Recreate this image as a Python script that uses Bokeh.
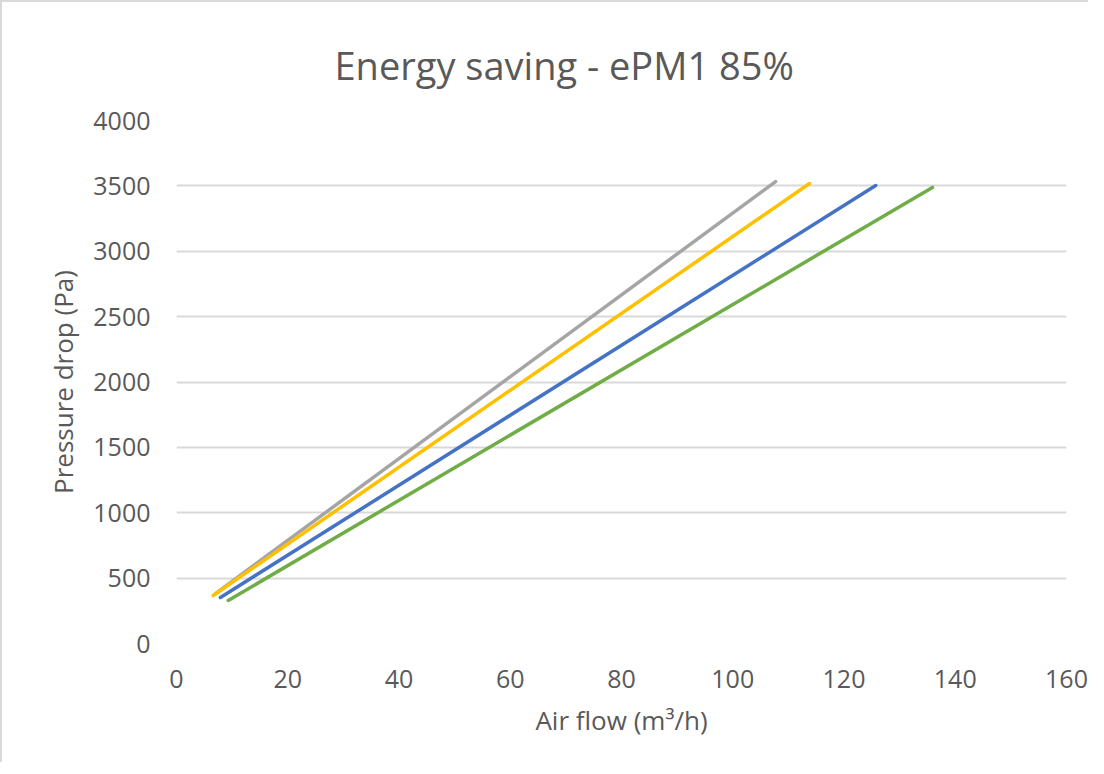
from bokeh.plotting import figure
from bokeh.models import FixedTicker
from bokeh.embed import file_html
from bokeh.resources import INLINE

# Data (start and end point of each straight line)
gray_x = [7.0, 107.7]
gray_y = [382, 3533]
yellow_x = [6.6, 113.8]
yellow_y = [367, 3518]
blue_x = [7.9, 125.7]
blue_y = [352, 3503]
green_x = [9.3, 135.9]
green_y = [329, 3488]

x_ticks = [0, 20, 40, 60, 80, 100, 120, 140, 160]
y_ticks = [0, 500, 1000, 1500, 2000, 2500, 3000, 3500, 4000]

title_text = "Energy saving - ePM1 85%"
x_label = "Air flow (m\u00b3/h)"
y_label = "Pressure drop (Pa)"

FONT = "Open Sans"
TXT = "#595959"

p = figure(width=1088, height=762, x_range=(0, 160), y_range=(0, 4000),
           output_backend="svg", toolbar_location=None,
           min_border_left=174, min_border_right=24,
           min_border_top=118, min_border_bottom=121)
p.styles = {"border-left": "2px solid #D9D9D9", "border-top": "2px solid #D9D9D9"}
p.outline_line_color = None
p.background_fill_color = "white"
p.border_fill_color = "white"

p.title.text = title_text
p.title.align = "left"
p.title.offset = 158
p.title.text_font = FONT
p.title.text_font_size = "38px"
p.title.text_color = TXT
p.title.text_font_style = "normal"
p.title.standoff = 60

for xs, ys, c in [(gray_x, gray_y, "#A5A5A5"), (yellow_x, yellow_y, "#FFC000"),
                  (blue_x, blue_y, "#4472C4"), (green_x, green_y, "#70AD47")]:
    p.line(xs, ys, line_color=c, line_width=3.5, line_cap="round")

p.xaxis.ticker = FixedTicker(ticks=x_ticks)
p.yaxis.ticker = FixedTicker(ticks=y_ticks)
p.xgrid.grid_line_color = None
p.ygrid.ticker = FixedTicker(ticks=y_ticks)
p.ygrid.grid_line_color = "#D9D9D9"
p.ygrid.grid_line_width = 2

for ax in (p.xaxis[0], p.yaxis[0]):
    ax.axis_line_color = None
    ax.major_tick_line_color = None
    ax.minor_tick_line_color = None
    ax.major_label_text_font = FONT
    ax.major_label_text_font_size = "25px"
    ax.major_label_text_color = TXT
    ax.axis_label_text_font = FONT
    ax.axis_label_text_font_size = "26px"
    ax.axis_label_text_color = TXT
    ax.axis_label_text_font_style = "normal"

p.xaxis.axis_label = x_label
p.yaxis.axis_label = y_label
p.xaxis.major_label_standoff = 20
p.yaxis.major_label_standoff = 20
p.xaxis.axis_label_standoff = 11
p.yaxis.axis_label_standoff = 9

open("out.html", "w").write(file_html(p, INLINE))
